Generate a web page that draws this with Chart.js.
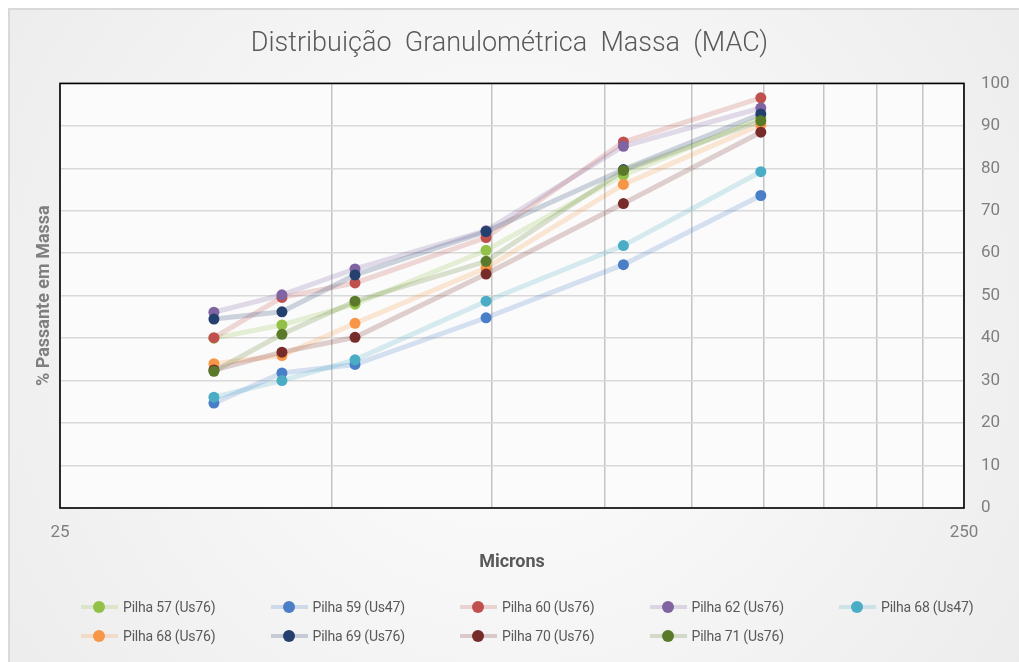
<!DOCTYPE html>
<html>
<head>
<meta charset="utf-8">
<title>Distribuição Granulométrica Massa (MAC)</title>
<script src="https://cdn.jsdelivr.net/npm/chart.js"></script>
<style>
  html, body { margin: 0; padding: 0; background: #fff; }
  #wrap { position: relative; width: 1019px; height: 662px; overflow: hidden; }
  #legend { position: absolute; left: 0; top: 0; width: 1019px; height: 662px; pointer-events: none; }
  .item { position: absolute; height: 20px; display: flex; align-items: center;
          font-family: Roboto, sans-serif; font-size: 14px; letter-spacing: -0.2px; color: #595959; }
  .sample { position: relative; width: 37px; height: 20px; margin-right: 5px; }
  .sample .ln { position: absolute; left: 0; right: 0; top: 8px; height: 4px; }
  .sample .dt { position: absolute; left: 12px; top: 4px; width: 12px; height: 12px; border-radius: 50%; }
</style>
</head>
<body>
<div id="wrap">
  <canvas id="chart" width="1019" height="662"></canvas>
  <div id="legend"></div>
</div>
<script>
// tamanhos das peneiras (microns)
const microns = [37, 44, 53, 74, 105, 149];

const seriesNames = [
  'Pilha 57 (Us76)', 'Pilha 59 (Us47)', 'Pilha 60 (Us76)', 'Pilha 62 (Us76)', 'Pilha 68 (Us47)',
  'Pilha 68 (Us76)', 'Pilha 69 (Us76)', 'Pilha 70 (Us76)', 'Pilha 71 (Us76)'
];

// % passante em massa
const pilha57 = [40.0, 43.1, 48.0, 60.7, 78.4, 91.9];
const pilha59 = [24.7, 31.8, 33.8, 44.8, 57.3, 73.6];
const pilha60 = [40.1, 49.6, 53.0, 63.7, 86.2, 96.6];
const pilha62 = [46.1, 50.2, 56.3, 65.3, 85.2, 94.2];
const pilha68us47 = [26.1, 30.0, 34.9, 48.7, 61.8, 79.2];
const pilha68us76 = [34.0, 35.9, 43.5, 56.5, 76.2, 90.3];
const pilha69 = [44.5, 46.2, 54.9, 65.1, 79.7, 92.8];
const pilha70 = [32.5, 36.7, 40.2, 55.1, 71.7, 88.5];
const pilha71 = [32.2, 40.9, 48.7, 58.1, 79.5, 91.2];

const xGridValues = [25, 50, 75, 100, 125, 150, 175, 200, 225, 250];
const xTickLabels = [25, 250];

const seriesValues = [pilha57, pilha59, pilha60, pilha62, pilha68us47, pilha68us76, pilha69, pilha70, pilha71];
const colors = ['#93C047', '#4A7EC7', '#C0504D', '#8064A2', '#4BACC6', '#F79646', '#24406F', '#772C2A', '#5A7A2A'];

function fade(hex, a) {
  const n = parseInt(hex.slice(1), 16);
  return `rgba(${n >> 16}, ${(n >> 8) & 255}, ${n & 255}, ${a})`;
}

const datasets = seriesValues.map((vals, i) => ({
  label: seriesNames[i],
  data: microns.map((m, j) => ({ x: m, y: vals[j] })),
  borderColor: fade(colors[i], 0.22),
  backgroundColor: colors[i],
  pointBackgroundColor: colors[i],
  pointBorderColor: colors[i],
  borderWidth: 5,
  pointRadius: 5.5,
  pointBorderWidth: 0,
  tension: 0,
  order: seriesValues.length - i
}));

// fundo da área do gráfico e moldura
const frame = {
  id: 'frame',
  beforeDraw(chart) {
    const { ctx, chartArea: a } = chart;
    ctx.save();
    const g = ctx.createRadialGradient(510, 330, 50, 510, 330, 620);
    g.addColorStop(0, '#fdfdfd');
    g.addColorStop(1, '#ececec');
    ctx.fillStyle = g;
    ctx.fillRect(9, 9, 1030, 680);
    ctx.strokeStyle = '#d9d9d9';
    ctx.lineWidth = 2;
    ctx.strokeRect(9, 9, 1030, 680);
    ctx.fillStyle = '#fbfbfb';
    ctx.fillRect(a.left, a.top, a.right - a.left, a.bottom - a.top);
    ctx.restore();
  },
  beforeDatasetsDraw(chart) {
    const { ctx, chartArea: a } = chart;
    ctx.save();
    ctx.strokeStyle = '#000';
    ctx.lineWidth = 1.6;
    ctx.strokeRect(a.left, a.top, a.right - a.left, a.bottom - a.top);
    ctx.restore();
  }
};

Chart.defaults.font.family = 'Roboto, sans-serif';

new Chart(document.getElementById('chart'), {
  type: 'line',
  data: { datasets },
  plugins: [frame],
  options: {
    responsive: false,
    animation: false,
    layout: { padding: { left: 0, right: 0, top: 0, bottom: 79 } },
    plugins: {
      legend: { display: false },
      tooltip: { enabled: false },
      title: {
        display: true,
        text: 'Distribuição  Granulométrica  Massa  (MAC)',
        color: '#595959',
        font: { size: 27, weight: '300' },
        padding: { top: 28, bottom: 23 }
      }
    },
    scales: {
      x: {
        type: 'logarithmic',
        min: 25,
        max: 250,
        afterBuildTicks(scale) { scale.ticks = xGridValues.map(v => ({ value: v })); },
        afterFit(scale) { scale.height = 75; },
        ticks: {
          autoSkip: false,
          maxRotation: 0,
          padding: 15,
          color: '#7f7f7f',
          font: { size: 17 },
          callback: v => xTickLabels.includes(v) ? String(v) : ''
        },
        grid: { color: '#c4c4c4', lineWidth: 1.5, drawTicks: false },
        border: { display: false },
        title: {
          display: true,
          text: 'Microns',
          color: '#595959',
          font: { size: 18, weight: 'bold' },
          padding: { top: 0, bottom: 10 }
        }
      },
      y: {
        position: 'right',
        min: 0,
        max: 100,
        afterFit(scale) { scale.width = 55; },
        ticks: { stepSize: 10, padding: 17, color: '#7f7f7f', font: { size: 17 } },
        grid: { color: '#d9d9d9', lineWidth: 1.5, drawTicks: false },
        border: { display: false }
      },
      yl: {
        position: 'left',
        min: 0,
        max: 100,
        afterFit(scale) { scale.width = 60; },
        ticks: { display: false },
        grid: { display: false },
        border: { display: false },
        title: {
          display: true,
          text: '% Passante em Massa',
          color: '#7f7f7f',
          font: { size: 18, weight: 'bold' },
          padding: { top: 34, bottom: 0 }
        }
      }
    }
  }
});

// legenda
const legend = document.getElementById('legend');
seriesNames.forEach((name, i) => {
  const col = i % 5, row = Math.floor(i / 5);
  const item = document.createElement('div');
  item.className = 'item';
  item.style.left = (81 + col * 189.5) + 'px';
  item.style.top = (597 + row * 29) + 'px';
  item.innerHTML = `<span class="sample"><span class="ln" style="background:${fade(colors[i], 0.22)}"></span>` +
    `<span class="dt" style="background:${colors[i]}"></span></span><span>${name}</span>`;
  legend.appendChild(item);
});
</script>
</body>
</html>
